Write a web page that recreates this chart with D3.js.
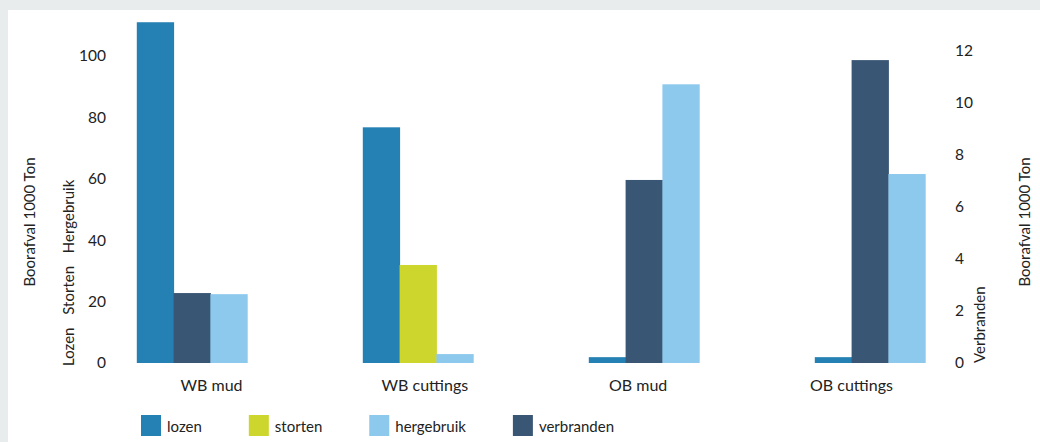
<!DOCTYPE html>
<html>
<head>
<meta charset="utf-8">
<script src="https://cdn.jsdelivr.net/npm/d3@7"></script>
<style>
  body { margin: 0; background: #e8ecec; }
  svg { display: block; font-family: Lato, "Open Sans", sans-serif; }
</style>
</head>
<body>
<svg class="canvas"></svg>
<script>
// data
let categories = ["WB mud", "WB cuttings", "OB mud", "OB cuttings"];
let lozen = [110.9, 76.7, 1.9, 1.9];
let storten = [null, 31.9, null, null];
let verbranden = [2.69, null, 7.04, 11.65];
let hergebruik = [22.4, 2.9, 90.7, 61.5];
let leftTicks = [0, 20, 40, 60, 80, 100];
let rightTicks = [0, 2, 4, 6, 8, 10, 12];
let legendLabels = ["lozen", "storten", "hergebruik", "verbranden"];

//params
let width = 1040;
let height = 442;
let top_y = 25;
let base_y = 363;
let bar_w = 36.8;
let colors = {
    lozen: "#2580b3",
    storten: "#cdd62d",
    hergebruik: "#8dc8ed",
    verbranden: "#3a5675"
};
let text_color = "#222";
//----------

// series in the order they sit inside a group, and which axis they use
let series = [
    {name: "lozen", values: lozen, axis: "left"},
    {name: "storten", values: storten, axis: "left"},
    {name: "verbranden", values: verbranden, axis: "right"},
    {name: "hergebruik", values: hergebruik, axis: "left"}
];

var svg = d3.select(".canvas")
    .attr("width", width)
    .attr("height", height);

svg.append("rect")
    .attr("x", 8).attr("y", 10)
    .attr("width", width - 8).attr("height", height - 10)
    .attr("fill", "white");

let yLeft = d3.scaleLinear().domain([0, 110]).range([base_y, top_y]);
let yRight = d3.scaleLinear().domain([0, 13]).range([base_y, top_y]);
let xGroup = d3.scalePoint().domain(categories).range([192, 870]);
let xLabel = d3.scalePoint().domain(categories).range([211, 851]);

// bars
categories.forEach(function(cat, ci) {
    let visible = series.filter(s => s.values[ci] != null);
    let inner = d3.scaleBand()
        .domain(d3.range(visible.length))
        .range([-visible.length * bar_w / 2, visible.length * bar_w / 2]);
    visible.forEach(function(s, i) {
        let y = s.axis == "left" ? yLeft : yRight;
        svg.append("rect")
            .attr("class", "bar")
            .attr("x", xGroup(cat) + inner(i))
            .attr("y", y(s.values[ci]))
            .attr("width", inner.bandwidth() + 0.5)
            .attr("height", base_y - y(s.values[ci]))
            .attr("fill", colors[s.name]);
    });
});

// axes
function styleAxis(size) {
    return function(g) {
        g.select(".domain").remove();
        g.selectAll(".tick line").remove();
        g.selectAll(".tick text")
            .attr("fill", text_color)
            .style("font-size", size)
            .style("font-family", "Lato, sans-serif");
    };
}

svg.append("g")
    .attr("transform", "translate(106,0)")
    .call(d3.axisLeft(yLeft).tickValues(leftTicks).tickSize(0).tickPadding(0))
    .call(styleAxis("15.5px"));

svg.append("g")
    .attr("transform", "translate(955,0)")
    .call(d3.axisRight(yRight).tickValues(rightTicks).tickSize(0).tickPadding(0))
    .call(styleAxis("15.5px"));

svg.append("g")
    .attr("transform", "translate(0," + (base_y + 17) + ")")
    .call(d3.axisBottom(xLabel).tickSize(0).tickPadding(0))
    .call(styleAxis("16px"));

// axis titles
function vtitle(x, y, txt, anchor) {
    return svg.append("text")
        .attr("transform", "translate(" + x + "," + y + ") rotate(-90)")
        .attr("text-anchor", anchor)
        .attr("dominant-baseline", "central")
        .attr("fill", text_color)
        .style("font-size", "15px")
        .text(txt);
}
vtitle(29, 222, "Boorafval 1000 Ton", "middle");
vtitle(68, 366, "Lozen Storten Hergebruik", "start").style("word-spacing", "9px");
vtitle(979, 363, "Verbranden", "start");
vtitle(1024, 222, "Boorafval 1000 Ton", "middle");

// legend
let lx = 141;
legendLabels.forEach(function(name) {
    svg.append("rect")
        .attr("x", lx).attr("y", 415)
        .attr("width", 20).attr("height", 21)
        .attr("fill", colors[name]);
    let t = svg.append("text")
        .attr("x", lx + 26).attr("y", 426)
        .attr("dominant-baseline", "central")
        .attr("fill", text_color)
        .style("font-size", "15px")
        .text(name);
    lx += 26 + t.node().getComputedTextLength() + 47;
});
</script>
</body>
</html>
